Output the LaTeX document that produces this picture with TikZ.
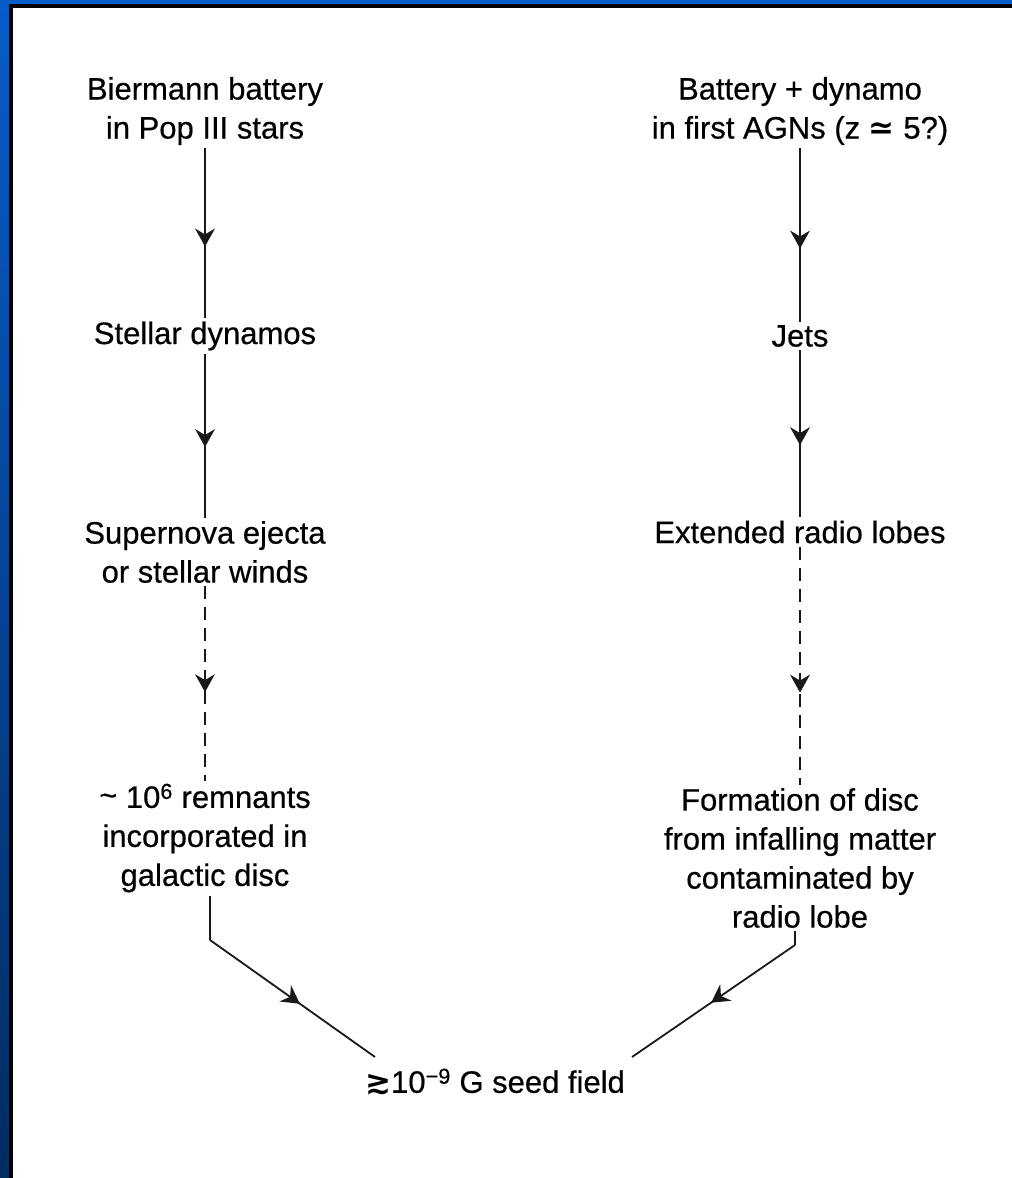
\documentclass[tikz,border=0pt]{standalone}
\usepackage{fontspec}
\setmainfont{Liberation Sans}[BoldFont=Liberation Sans,BoldFeatures={FakeBold=0.5}]
\newfontfamily\dvfont{DejaVu Sans}
\usetikzlibrary{decorations.markings,calc}
\definecolor{topblue}{RGB}{8,92,200}
\definecolor{navy}{RGB}{0,44,96}
\definecolor{ink}{RGB}{25,25,25}
\begin{document}
\begin{tikzpicture}[x=1pt,y=-1pt,
  lbl/.style={align=center,inner sep=3pt,font=\fontsize{31}{39}\selectfont\bfseries,text=black},
  conn/.style={draw=ink,line width=1.8pt},
  dsh/.style={dash pattern=on 13pt off 8pt},
  midarr/.style={postaction={decorate,decoration={markings,
     mark=at position #1 with {\fill[ink,solid] (3pt,0pt) -- (-15pt,-10pt) -- (-9pt,0pt) -- (-15pt,10pt) -- cycle;}}}}]
\useasboundingbox (0,0) rectangle (1012,1178);
\fill[white] (0,0) rectangle (1012,1178);
% frame
\shade[top color=topblue,bottom color=navy] (0,0) rectangle (9,1178);
\fill[topblue] (0,0) rectangle (1012,4);
\fill[black] (9,4) rectangle (1012,8);
\fill[black] (9,4) rectangle (13,1178);
% nodes
\node[lbl] (L1) at (205,111) {Biermann battery\\in Pop III stars};
\node[lbl] (L2) at (205,336) {Stellar dynamos};
\node[lbl] (L3) at (205,552) {Supernova ejecta\\or stellar winds};
\node[lbl] (L4) at (205,838) {\raisebox{2pt}{\char"7E} 10\textsuperscript{6} remnants\\incorporated in\\galactic disc};
\node[lbl] (R1) at (800,111) {Battery + dynamo\\in first AGNs (z {\dvfont ≃} 5?)};
\node[lbl] (R2) at (800,336) {Jets};
\node[lbl] (R3) at (800,532) {Extended radio lobes};
\node[lbl] (R4) at (800,858) {Formation of disc\\from infalling matter\\contaminated by\\radio lobe};
\node[lbl] (S) at (495,1082) {{\dvfont ≳}10\textsuperscript{−9} G seed field};
% connectors
\coordinate (Lb) at (210,940);
\coordinate (Le) at (375,1057);
\coordinate (Rb) at (795,945);
\coordinate (Re) at (632,1057);
\draw[conn,midarr=0.56] (L1.south) -- (L2.north);
\draw[conn,midarr=0.55] (L2.south) -- (L3.north);
\draw[conn,dsh,midarr=0.53] (L3.south) -- (L4.north);
\draw[conn,midarr=0.56] (R1.south) -- (R2.north);
\draw[conn,midarr=0.55] (R2.south) -- (R3.north);
\draw[conn,dsh,midarr=0.6] (R3.south) -- (R4.north);
\draw[conn] (L4.south -| Lb) -- (Lb);
\draw[conn,midarr=0.53] (Lb) -- (Le);
\draw[conn] (R4.south -| Rb) -- (Rb);
\draw[conn,midarr=0.5] (Rb) -- (Re);
\end{tikzpicture}
\end{document}
